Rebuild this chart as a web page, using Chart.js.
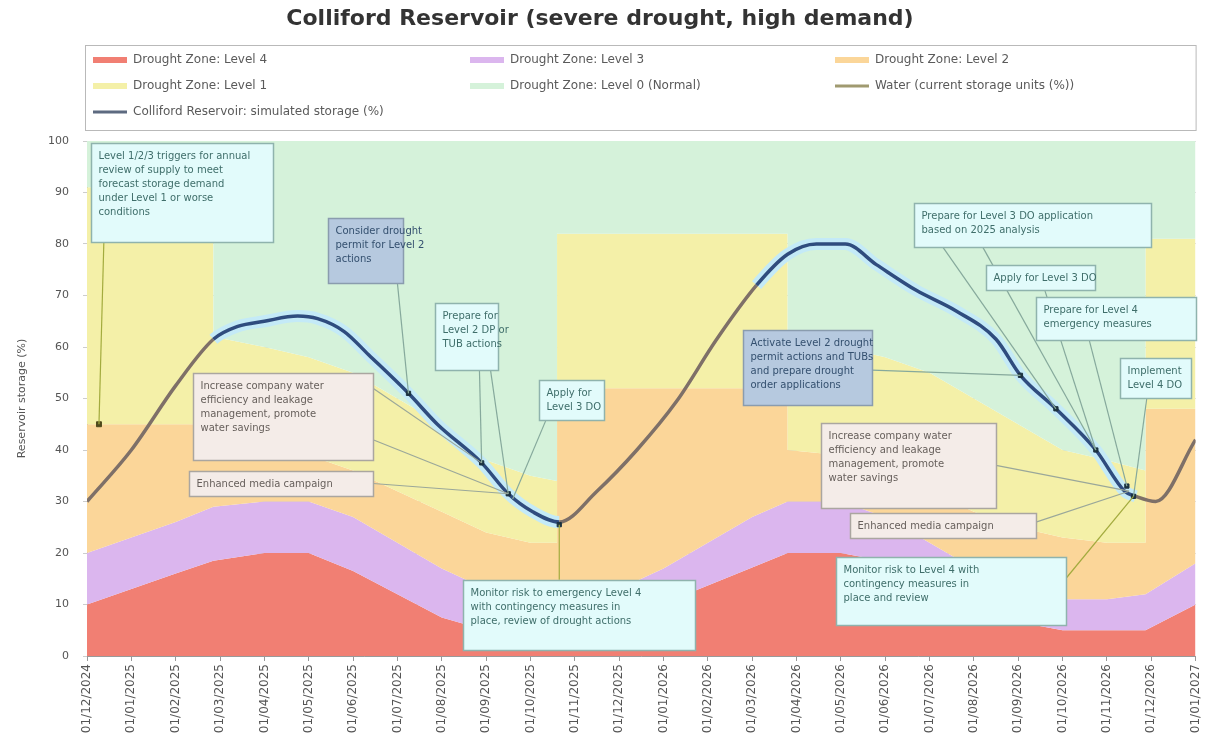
<!DOCTYPE html>
<html>
<head>
<meta charset="utf-8">
<title>Colliford Reservoir</title>
<script src="https://cdn.jsdelivr.net/npm/chart.js@4.4.1/dist/chart.umd.min.js"></script>
<style>
  html, body { margin: 0; padding: 0; background: #fff; }
</style>
</head>
<body>
<canvas id="chart" width="1213" height="756"></canvas>
<script>
// Tick labels (one per month)
const monthLabels = ["01/12/2024", "01/01/2025", "01/02/2025", "01/03/2025", "01/04/2025", "01/05/2025",
  "01/06/2025", "01/07/2025", "01/08/2025", "01/09/2025", "01/10/2025", "01/11/2025", "01/12/2025",
  "01/01/2026", "01/02/2026", "01/03/2026", "01/04/2026", "01/05/2026", "01/06/2026", "01/07/2026",
  "01/08/2026", "01/09/2026", "01/10/2026", "01/11/2026", "01/12/2026", "01/01/2027"];

// Drought zone boundaries (month index -> storage %)
const zoneX = [0, 1, 2, 2.85, 2.85, 4, 5, 6, 7, 8, 9, 10, 10.6, 10.6, 12, 13, 14, 15, 15.8, 15.8,
  17, 18, 19, 20, 21, 22, 23, 23.87, 23.87, 25];
const level4Top = [10, 13, 16, 18.5, 18.5, 20, 20, 16.5, 12, 7.5, 5, 5, 5, 5, 6.7, 10.2, 13.7, 17.2, 20, 20,
  20, 18.4, 14.5, 10.5, 6.6, 5, 5, 5, 5, 10];
const level3Top = [20, 23, 26, 29, 29, 30, 30, 27, 22, 17, 13, 11, 11, 11, 13, 17, 22, 27, 30, 30,
  30, 27, 22, 17, 13, 11, 11, 12, 12, 18];
const level2Top = [45, 45, 45, 45, 40, 40, 39, 36, 32, 28, 24, 22, 22, 52, 52, 52, 52, 52, 52, 40,
  39, 36, 32, 28, 25, 23, 22, 22, 48, 48];
const level1Top = [91, 91, 91, 91, 62, 60, 58, 55, 50, 45, 38, 35, 34, 82, 82, 82, 82, 82, 82, 62,
  60, 58, 55, 50, 45, 40, 38, 36, 81, 81];

// Simulated storage
const storageX = [0, 1, 2, 2.85, 3.4, 4, 4.75, 5.2, 5.8, 6.35, 7.25, 7.9, 8.9, 9.5, 10.05, 10.65, 11.5,
  12.4, 13.3, 14.2, 15.1, 15.8, 16.45, 17.1, 17.8, 18.7, 19.6, 20.5, 21.05, 21.85, 22.75, 23.4, 23.65, 24.1, 25];
const storageY = [30, 40, 52.5, 61.5, 64, 65, 66, 65.5, 63, 58.5, 51, 45, 37.5, 31.5, 28, 26, 32,
  40, 49.5, 61.5, 72, 78, 80, 80, 76, 71, 67, 61.5, 54.5, 48, 40, 32, 31, 30, 42];
const drawdownRanges = [[2.85, 10.65], [15.1, 23.65]];

const currentX = [0.27];
const currentY = [45];

// trigger markers on the storage line
const markerX = [7.25, 8.9, 9.5, 10.65, 21.05, 21.85, 22.75, 23.45, 23.6];
const markerY = [51, 37.5, 31.5, 25.5, 54.5, 48, 40, 33, 31];

const FONT = "'DejaVu Sans', Verdana, sans-serif";
const NOTE_FONT = "10px 'DejaVu Sans', Verdana, sans-serif";
const colours = {
  l4: "#f17f73", l3: "#dbb6ee", l2: "#fbd699", l1: "#f4f0a8", l0: "#d5f2da",
  blue: "#2f4c7e", brown: "#7e7068", halo: "#c4eaf7", water: "#a09a70"
};

// annotation boxes (data units) and their leader lines
const notes = [
  { x0: 0.09, x1: 4.2, yt: 99.6, yb: 80.4, style: "cyan",
    text: ["Level 1/2/3 triggers for annual", "review of supply to meet", "forecast storage demand", "under Level 1 or worse", "conditions"],
    leaders: [[0.38, 80.4, 0.27, 45, "olive"]] },
  { x0: 5.44, x1: 7.12, yt: 85, yb: 72.4, style: "blue",
    text: ["Consider drought", "permit for Level 2", "actions"],
    leaders: [[7.0, 72.4, 7.25, 51]] },
  { x0: 7.84, x1: 9.26, yt: 68.5, yb: 55.5, style: "cyan",
    text: ["Prepare for", "Level 2 DP or", "TUB actions"],
    leaders: [[8.85, 55.5, 8.9, 37.5], [9.1, 55.5, 9.5, 31.5]] },
  { x0: 10.2, x1: 11.66, yt: 53.6, yb: 45.8, style: "cyan",
    text: ["Apply for", "Level 3 DO"],
    leaders: [[10.35, 45.8, 9.6, 30.5]] },
  { x0: 2.4, x1: 6.45, yt: 55, yb: 38, style: "beige",
    text: ["Increase company water", "efficiency and leakage", "management, promote", "water savings"],
    leaders: [[6.45, 52, 8.9, 37.5], [6.45, 42, 9.5, 31.5]] },
  { x0: 2.3, x1: 6.45, yt: 36, yb: 31, style: "beige",
    text: ["Enhanced media campaign"],
    leaders: [[6.45, 33.5, 9.5, 31.5]] },
  { x0: 8.47, x1: 13.7, yt: 14.8, yb: 1.2, style: "cyan",
    text: ["Monitor risk to emergency Level 4", "with contingency measures in", "place, review of drought actions"],
    leaders: [[10.65, 14.8, 10.65, 25.5, "olive"]] },
  { x0: 14.8, x1: 17.7, yt: 63.3, yb: 48.7, style: "blue",
    text: ["Activate Level 2 drought", "permit actions and TUBs", "and prepare drought", "order applications"],
    leaders: [[17.7, 55.5, 21.05, 54.5]] },
  { x0: 18.65, x1: 24, yt: 88, yb: 79.4, style: "cyan",
    text: ["Prepare for Level 3 DO application", "based on 2025 analysis"],
    leaders: [[19.3, 79.4, 21.85, 48], [20.2, 79.4, 22.75, 40]] },
  { x0: 20.27, x1: 22.74, yt: 76, yb: 71, style: "cyan",
    text: ["Apply for Level 3 DO"],
    leaders: [[21.6, 71, 22.75, 40]] },
  { x0: 21.4, x1: 25, yt: 69.7, yb: 61.4, style: "cyan",
    text: ["Prepare for Level 4", "emergency measures"],
    leaders: [[22.6, 61.4, 23.45, 33]] },
  { x0: 23.3, x1: 24.9, yt: 57.9, yb: 50.1, style: "cyan",
    text: ["Implement", "Level 4 DO"],
    leaders: [[23.9, 50.1, 23.6, 31]] },
  { x0: 16.56, x1: 20.5, yt: 45.2, yb: 28.7, style: "beige",
    text: ["Increase company water", "efficiency and leakage", "management, promote", "water savings"],
    leaders: [[20.5, 37, 23.5, 32]] },
  { x0: 17.2, x1: 21.4, yt: 27.8, yb: 22.9, style: "beige",
    text: ["Enhanced media campaign"],
    leaders: [[21.4, 26, 23.5, 32]] },
  { x0: 16.9, x1: 22.07, yt: 19.2, yb: 6, style: "cyan",
    text: ["Monitor risk to Level 4 with", "contingency measures in", "place and review"],
    leaders: [[22.07, 15, 23.6, 31, "olive"]] }
];

const boxStyles = {
  cyan: { fill: "#e2fbfb", border: "#8fb3ad", text: "#3f6e6a", leader: "#86a99c" },
  blue: { fill: "#b6c9df", border: "#8a9cae", text: "#34506f", leader: "#86a99c" },
  beige: { fill: "#f4ece8", border: "#aaa6a0", text: "#665f5b", leader: "#9aa79a" }
};

function pts(xs, ys) {
  return xs.map((x, i) => ({ x: x, y: ys[i] }));
}

function inDrawdown(c) {
  const m = (c.p0.parsed.x + c.p1.parsed.x) / 2;
  return drawdownRanges.some(r => m >= r[0] && m <= r[1]);
}

function zone(label, ys, colour, fill, order) {
  return {
    label: label, data: pts(zoneX, ys), backgroundColor: colour, borderColor: colour,
    borderWidth: 0, pointRadius: 0, fill: fill, tension: 0, order: order
  };
}

// legend: dataset index per [row][col]
const legendGrid = [[0, 1, 2], [3, 4, 7], [6]];

const legendBox = {
  id: "legendBox",
  afterDraw(chart) {
    const ctx = chart.ctx;
    const ca = chart.chartArea;
    const left = ca.left - 2, top = 45, w = ca.right - left, h = 85;
    ctx.save();
    ctx.fillStyle = "#fff";
    ctx.fillRect(left, top, w, h);
    ctx.strokeStyle = "#b9b9b9";
    ctx.lineWidth = 1;
    ctx.strokeRect(left + 0.5, top + 0.5, w, h);
    const colX = [left + 8, left + 385, left + 750];
    ctx.font = "12px " + FONT;
    ctx.textBaseline = "middle";
    legendGrid.forEach((row, r) => {
      row.forEach((idx, c) => {
        const ds = chart.data.datasets[idx];
        const y = top + 15 + r * 26;
        const x = colX[c];
        ctx.fillStyle = ds.legendColour || ds.backgroundColor;
        if (ds.legendKind === "line") ctx.fillRect(x, y - 1.5, 34, 3);
        else ctx.fillRect(x, y - 3, 34, 6);
        ctx.fillStyle = "#5a5a5a";
        ctx.fillText(ds.label, x + 40, y);
      });
    });
    ctx.restore();
  }
};

const notesPlugin = {
  id: "notes",
  afterDatasetsDraw(chart) {
    const ctx = chart.ctx;
    const xs = chart.scales.x, ys = chart.scales.y;
    ctx.save();
    notes.forEach(n => {
      const st = boxStyles[n.style];
      n.leaders.forEach(l => {
        ctx.strokeStyle = l[4] === "olive" ? "#a3ab3e" : st.leader;
        ctx.lineWidth = 1.2;
        ctx.beginPath();
        ctx.moveTo(xs.getPixelForValue(l[0]), ys.getPixelForValue(l[1]));
        ctx.lineTo(xs.getPixelForValue(l[2]), ys.getPixelForValue(l[3]));
        ctx.stroke();
      });
    });
    notes.forEach(n => {
      const st = boxStyles[n.style];
      const x0 = Math.round(xs.getPixelForValue(n.x0)) + 0.5;
      const x1 = Math.round(xs.getPixelForValue(n.x1)) + 0.5;
      const y0 = Math.round(ys.getPixelForValue(n.yt)) + 0.5;
      const y1 = Math.round(ys.getPixelForValue(n.yb)) + 0.5;
      ctx.fillStyle = st.fill;
      ctx.fillRect(x0, y0, x1 - x0, y1 - y0);
      ctx.strokeStyle = st.border;
      ctx.lineWidth = 1.5;
      ctx.strokeRect(x0, y0, x1 - x0, y1 - y0);
      ctx.fillStyle = st.text;
      ctx.font = NOTE_FONT;
      ctx.textBaseline = "middle";
      n.text.forEach((t, k) => ctx.fillText(t, x0 + 7, y0 + 13 + k * 14));
    });
    ctx.restore();
  }
};

const datasets = [
  zone("Drought Zone: Level 4", level4Top, colours.l4, "origin", 14),
  zone("Drought Zone: Level 3", level3Top, colours.l3, 0, 13),
  zone("Drought Zone: Level 2", level2Top, colours.l2, 1, 12),
  zone("Drought Zone: Level 1", level1Top, colours.l1, 2, 11),
  zone("Drought Zone: Level 0 (Normal)", level1Top, colours.l0, "end", 10),
  {
    label: "halo", data: pts(storageX, storageY), borderWidth: 12, pointRadius: 0, fill: false,
    borderColor: colours.halo, cubicInterpolationMode: "monotone", order: 3,
    segment: { borderColor: c => inDrawdown(c) ? colours.halo : "rgba(0,0,0,0)" }
  },
  {
    label: "Colliford Reservoir: simulated storage (%)", data: pts(storageX, storageY), borderWidth: 3.5,
    pointRadius: 0, fill: false, borderColor: colours.blue, cubicInterpolationMode: "monotone", order: 2,
    legendKind: "line", legendColour: "#5d6a80",
    segment: { borderColor: c => inDrawdown(c) ? colours.blue : colours.brown }
  },
  {
    label: "Water (current storage units (%))", data: pts(currentX, currentY), showLine: false,
    pointStyle: "rect", pointRadius: 3.5, pointBackgroundColor: "#4f4a1c", pointBorderColor: "#4f4a1c",
    order: 1, legendKind: "line", legendColour: colours.water
  },
  {
    label: "markers", data: pts(markerX, markerY), showLine: false, pointStyle: "rect", pointRadius: 3,
    pointBackgroundColor: "#1d3340", pointBorderColor: "#1d3340", order: 0
  }
];

new Chart(document.getElementById("chart"), {
  type: "line",
  data: { datasets: datasets },
  options: {
    responsive: false,
    animation: false,
    layout: { padding: { left: 0, right: 13, top: 0, bottom: 0 } },
    plugins: {
      legend: { display: false },
      tooltip: { enabled: false },
      filler: { propagate: false },
      title: {
        display: true,
        text: "Colliford Reservoir (severe drought, high demand)",
        color: "#333",
        font: { family: FONT, size: 22, weight: "bold" },
        padding: { top: 6, bottom: 108.6 }
      }
    },
    scales: {
      x: {
        type: "linear", min: 0, max: 25,
        afterFit: s => { s.height = 100; },
        ticks: {
          stepSize: 1, autoSkip: false, maxRotation: 90, minRotation: 90,
          color: "#555", font: { family: FONT, size: 12 },
          callback: v => monthLabels[v] || ""
        },
        grid: { drawOnChartArea: false, color: "#999", tickLength: 5 },
        border: { color: "#999" }
      },
      y: {
        min: 0, max: 100,
        afterFit: s => { s.width = 87; },
        ticks: { stepSize: 10, padding: 14, color: "#555", font: { family: FONT, size: 11 } },
        grid: { color: "#cdcdcd", tickLength: 4 },
        border: { color: "#999" },
        title: {
          display: true, text: "Reservoir storage (%)", color: "#555",
          font: { family: FONT, size: 11 }, padding: { top: 16, bottom: 0 }
        }
      }
    }
  },
  plugins: [notesPlugin, legendBox]
});
</script>
</body>
</html>
